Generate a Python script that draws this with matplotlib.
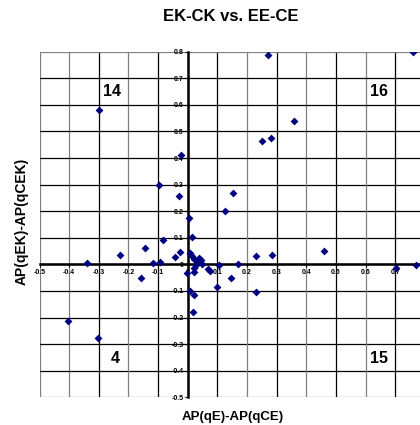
import matplotlib
matplotlib.use("Agg")
from matplotlib import pyplot as plt
from matplotlib.ticker import FuncFormatter
import numpy as np

plt.rcParams['font.family'] = ['Liberation Sans', 'DejaVu Sans']

# AP(qE)-AP(qCE) vs AP(qEK)-AP(qCEK)
x_vals = [-0.301, -0.023, -0.096, -0.030, 0.003, 0.015, -0.084, 0.272, 0.761, 0.357,
          0.251, 0.281, 0.153, 0.125, -0.145, -0.229, -0.341, -0.117, -0.092, -0.158,
          -0.044, -0.025, 0.006, 0.013, 0.022, 0.039, 0.043, 0.034, 0.048, 0.028,
          0.020, 0.022, -0.002, 0.068, 0.075, 0.105, 0.168, 0.147, 0.100, 0.007,
          0.020, 0.017, -0.403, -0.302, 0.230, 0.285, 0.231, 0.459, 0.701, 0.768]
y_vals = [0.580, 0.410, 0.297, 0.257, 0.175, 0.103, 0.090, 0.789, 0.800, 0.541,
          0.465, 0.474, 0.268, 0.202, 0.060, 0.036, 0.005, 0.005, 0.010, -0.052,
          0.026, 0.046, 0.041, 0.031, 0.019, 0.023, 0.016, 0.010, 0.000, -0.003,
          -0.015, -0.028, -0.034, -0.019, -0.025, -0.002, 0.000, -0.050, -0.084, -0.099,
          -0.115, -0.178, -0.213, -0.278, 0.030, 0.036, -0.104, 0.049, -0.015, -0.001]

quadrant_labels = ['14', '16', '4', '15']
quadrant_pos = [(-0.255, 0.65), (0.645, 0.65), (-0.245, -0.355), (0.645, -0.355)]

ticks = [round(v, 1) for v in np.arange(-0.5, 0.81, 0.1)]

fig = plt.figure(figsize=(4.2, 4.25), dpi=100)
ax = fig.add_axes([39.5 / 420, 1 - 397.3 / 425, (425 - 39.5) / 420, (397.3 - 51.7) / 425])

# grid lines, every 0.1 (outer border in grey)
for i, t in enumerate(ticks):
    edge = i == 0 or i == len(ticks) - 1
    c = '#808080' if (edge or i % 2 == 1) else '#000000'
    ax.axvline(t, color=c, lw=0.9, zorder=1)
    ax.axhline(t, color='#808080' if edge else '#000000', lw=0.9, zorder=1)

ax.scatter(x_vals, y_vals, marker='D', s=16, color='#000080', zorder=4, linewidths=0)

for lab, (tx, ty) in zip(quadrant_labels, quadrant_pos):
    ax.text(tx, ty, lab, fontsize=11.5, fontweight='bold', ha='center', va='center')

ax.set_xlim(-0.5, 0.8)
ax.set_ylim(-0.5, 0.8)
ax.set_xticks(ticks)
ax.set_yticks(ticks)
fmt = FuncFormatter(lambda v, p: '0' if abs(v) < 1e-9 else f'{v:.1f}')
xfmt = FuncFormatter(lambda v, p: '' if v > 0.75 else fmt(v, p))
ax.xaxis.set_major_formatter(xfmt)
ax.yaxis.set_major_formatter(fmt)

ax.spines['left'].set_position(('data', 0))
ax.spines['bottom'].set_position(('data', 0))
ax.spines['left'].set_linewidth(1.8)
ax.spines['bottom'].set_linewidth(1.8)
ax.spines['left'].set_zorder(3)
ax.spines['bottom'].set_zorder(3)
ax.spines['right'].set_visible(False)
ax.spines['top'].set_visible(False)
ax.tick_params(direction='out', length=2, width=0.8, labelsize=5, pad=1)
for lbl in ax.get_xticklabels() + ax.get_yticklabels():
    lbl.set_fontweight('bold')

fig.text(0.55, 0.962, 'EK-CK vs. EE-CE', ha='center', va='center', fontsize=12, fontweight='bold')
fig.text(0.5536, 0.019, 'AP(qE)-AP(qCE)', ha='center', va='center', fontsize=9.5, fontweight='bold')
fig.text(0.052, 0.478, 'AP(qEK)-AP(qCEK)', ha='center', va='center', rotation=90, fontsize=10, fontweight='bold')

fig.savefig('out.png', dpi=100)
